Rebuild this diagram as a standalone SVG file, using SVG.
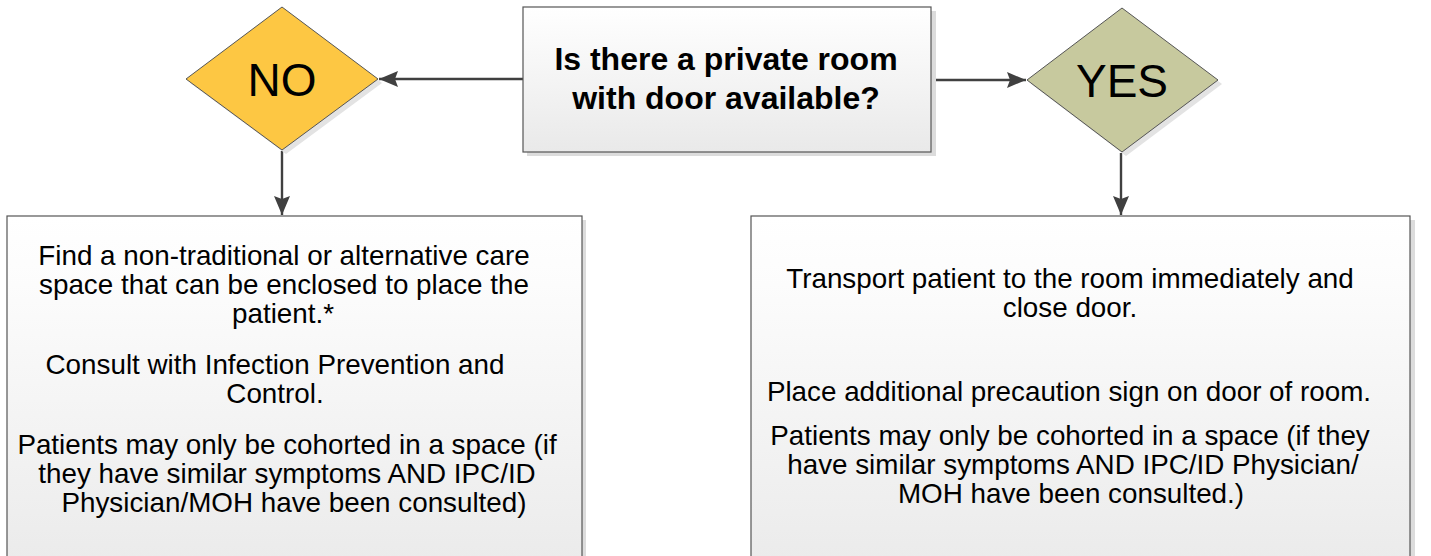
<svg xmlns="http://www.w3.org/2000/svg" width="1431" height="556" viewBox="0 0 1431 556">
<style>
.box{stroke:#555;stroke-width:1.2}
.shadow{fill:#dcdcdc}
.body{font-family:"Liberation Sans",Arial,sans-serif;font-size:27.8px;fill:#000;text-anchor:middle}
.q{font-family:"Liberation Sans",Arial,sans-serif;font-size:32px;font-weight:bold;fill:#000;text-anchor:middle}
.dtext{font-family:"Liberation Sans",Arial,sans-serif;font-size:46px;fill:#000;text-anchor:middle}
.dia{stroke:#555;stroke-width:1}
.conn{stroke:#404040;stroke-width:2.4;fill:none;marker-end:url(#arr)}
</style>
<defs>
<linearGradient id="g" x1="0" y1="0" x2="0" y2="1">
<stop offset="0" stop-color="#ffffff"/>
<stop offset="1" stop-color="#e9e9e9"/>
</linearGradient>
<linearGradient id="gb" x1="0" y1="0" x2="0" y2="1">
<stop offset="0" stop-color="#ffffff"/>
<stop offset="0.2" stop-color="#fcfcfc"/>
<stop offset="1" stop-color="#ebebeb"/>
</linearGradient>
<marker id="arr" markerWidth="19" markerHeight="16" refX="19" refY="8" orient="auto" markerUnits="userSpaceOnUse">
<path d="M0,0 L19,8 L0,16 L3,8 Z" fill="#404040"/>
</marker>
</defs>
<g id="connectors">
<line class="conn" x1="523" y1="79" x2="379" y2="79"/>
<line class="conn" x1="931" y1="80" x2="1026" y2="80"/>
<line class="conn" x1="282" y1="151" x2="282" y2="215"/>
<line class="conn" x1="1121" y1="153" x2="1121" y2="215"/>
</g>
<g id="question">
<rect class="shadow" x="527" y="11" width="409" height="145"/>
<rect class="box" x="523" y="7" width="408" height="145" fill="url(#g)"/>
<text class="q" x="726" y="70">Is there a private room</text>
<text class="q" x="726" y="109">with door available?</text>
</g>
<g id="no">
<polygon points="190,83 286,11 382,83 286,154" fill="#e3e3e3"/>
<polygon class="dia" points="186,79 282,7 378,79 282,150" fill="#fdc743"/>
<text class="dtext" x="282" y="96">NO</text>
</g>
<g id="yes">
<polygon points="1031,84 1126,12 1222,84 1126,156" fill="#e3e3e3"/>
<polygon class="dia" points="1027,80 1122,8 1218,80 1122,152" fill="#c7c99e"/>
<text class="dtext" x="1122" y="97">YES</text>
</g>
<g id="no-action">
<rect class="shadow" x="11" y="220" width="575" height="340"/>
<rect class="box" x="7" y="216" width="575" height="345" fill="url(#gb)"/>
<text class="body" x="284" y="265">Find a non-traditional or alternative care</text>
<text class="body" x="284" y="294">space that can be enclosed to place the</text>
<text class="body" x="283" y="323">patient.*</text>
<text class="body" x="275" y="374">Consult with Infection Prevention and</text>
<text class="body" x="275" y="403">Control.</text>
<text class="body" x="287" y="454">Patients may only be cohorted in a space (if</text>
<text class="body" x="287" y="483">they have similar symptoms AND IPC/ID</text>
<text class="body" x="294" y="512">Physician/MOH have been consulted)</text>
</g>
<g id="yes-action">
<rect class="shadow" x="755" y="220" width="660" height="340"/>
<rect class="box" x="751" y="216" width="659" height="345" fill="url(#gb)"/>
<text class="body" x="1070" y="288">Transport patient to the room immediately and</text>
<text class="body" x="1070" y="317">close door.</text>
<text class="body" x="1069" y="401">Place additional precaution sign on door of room.</text>
<text class="body" x="1070" y="445">Patients may only be cohorted in a space (if they</text>
<text class="body" x="1073" y="474">have similar symptoms AND IPC/ID Physician/</text>
<text class="body" x="1071" y="503">MOH have been consulted.)</text>
</g>
</svg>
